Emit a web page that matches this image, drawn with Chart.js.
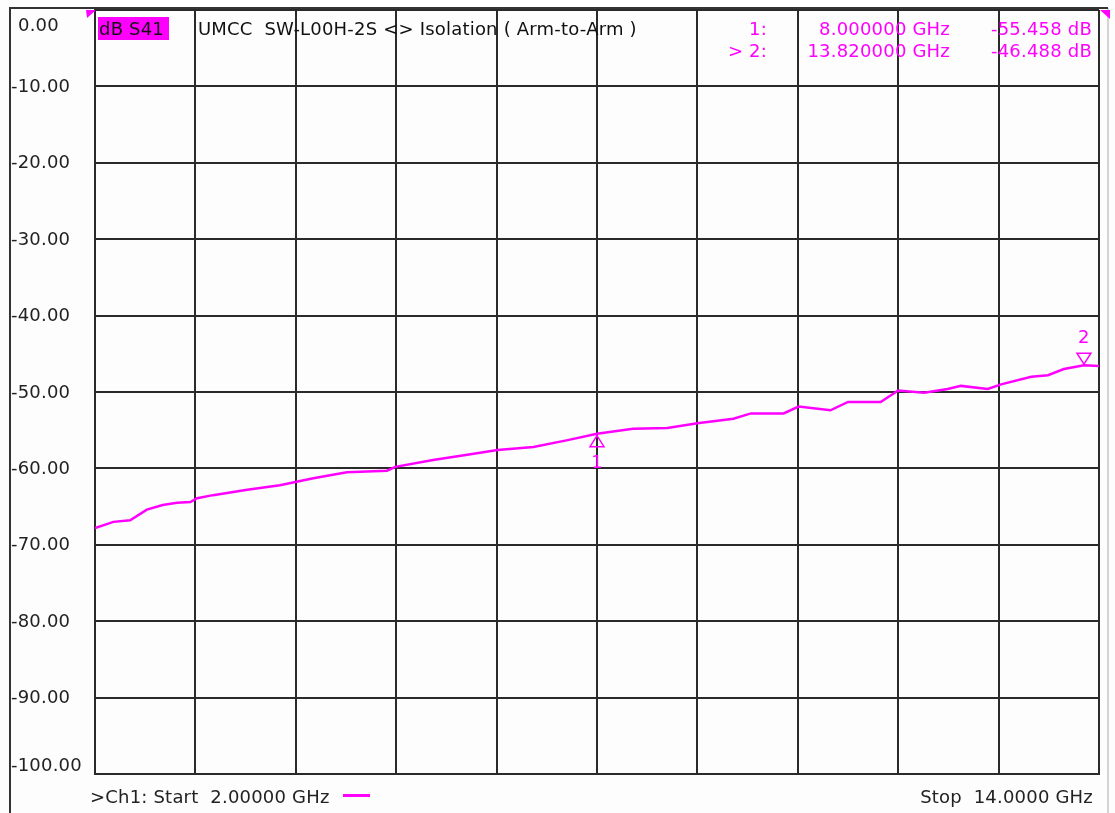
<!DOCTYPE html>
<html>
<head>
<meta charset="utf-8">
<title>S41 Isolation</title>
<script src="https://cdn.jsdelivr.net/npm/chart.js@4.4.1/dist/chart.umd.min.js"></script>
<style>
  html, body { margin: 0; padding: 0; background: #fff; }
  #wrap { position: relative; width: 1115px; height: 813px; }
</style>
</head>
<body>
<div id="wrap"><canvas id="plot" width="1115" height="813"></canvas></div>
<script>
/* trace data */
const freqGHz = [2.00, 2.22, 2.42, 2.62, 2.81, 2.98, 3.14, 3.22, 3.41, 3.82, 4.21, 4.61, 5.01, 5.49, 5.59,
  6.04, 6.45, 6.81, 7.24, 7.65, 8.00, 8.43, 8.84, 9.20, 9.63, 9.84, 10.23, 10.41, 10.79, 11.00, 11.39,
  11.60, 11.91, 12.19, 12.35, 12.67, 12.83, 13.19, 13.39, 13.58, 13.82, 14.00];
const s41dB = [-67.8, -67.0, -66.8, -65.4, -64.8, -64.5, -64.4, -63.9, -63.5, -62.8, -62.2, -61.3, -60.5, -60.3, -59.8,
  -58.9, -58.2, -57.6, -57.2, -56.3, -55.46, -54.8, -54.7, -54.1, -53.5, -52.8, -52.8, -51.9, -52.4, -51.3, -51.3,
  -49.8, -50.1, -49.6, -49.2, -49.6, -49.0, -48.0, -47.8, -47.0, -46.49, -46.6];

/* markers */
const markerNames = ["1", "2"];
const markerFreq = [8.0, 13.82];
const markerVal = [-55.458, -46.488];
const markerRows = ["1:", "> 2:"];
const markerFreqText = ["8.000000 GHz", "13.820000 GHz"];
const markerValText = ["-55.458 dB", "-46.488 dB"];

/* axes */
const yTickValues = [0, -10, -20, -30, -40, -50, -60, -70, -80, -90, -100];
const yTickLabels = ["0.00", "-10.00", "-20.00", "-30.00", "-40.00", "-50.00", "-60.00", "-70.00", "-80.00", "-90.00", "-100.00"];
const startGHz = 2, stopGHz = 14, xStep = 1.2;

const MAG = "#ff00ff";
const FONT = "18px 'DejaVu Sans'";

/* frame, labels, annotations */
const screenPlugin = {
  id: "screen",
  beforeDraw(chart) {
    const c = chart.ctx;
    c.save();
    c.fillStyle = "#fdfdfd";
    c.fillRect(0, 0, chart.width, chart.height);
    // outer frame
    c.strokeStyle = "#d4d4d4";
    c.lineWidth = 2;
    c.beginPath(); c.moveTo(1108, 8); c.lineTo(1108, 813); c.stroke();
    c.strokeStyle = "#333";
    c.beginPath(); c.moveTo(10, 813); c.lineTo(10, 8); c.lineTo(1108, 8); c.stroke();
    c.restore();
  },
  afterDraw(chart) {
    const c = chart.ctx;
    const xs = chart.scales.x, ys = chart.scales.y;
    const a = chart.chartArea;
    c.save();
    c.font = FONT;
    c.letterSpacing = "0.2px";
    c.textBaseline = "middle";

    // y labels
    c.fillStyle = "#222";
    c.textAlign = "left";
    yTickValues.forEach((v, i) => {
      let y = ys.getPixelForValue(v) + 1;
      if (i === 0) y = a.top + 16;
      if (i === yTickValues.length - 1) y = a.bottom - 8;
      const lab = yTickLabels[i];
      c.fillText(lab, lab[0] === "-" ? 11 : 18, y);
    });

    // header
    c.fillStyle = MAG;
    c.fillRect(98, 17, 71, 23);
    c.fillStyle = "#111";
    c.fillText("dB S41", 99, 30);
    c.fillText("UMCC  SW-L00H-2S <> Isolation ( Arm-to-Arm )", 198, 30);

    c.fillStyle = MAG;
    markerRows.forEach((r, i) => {
      const y = 30 + i * 22;
      c.textAlign = "right";
      c.fillText(r, 767, y);
      c.fillText(markerFreqText[i], 950, y);
      c.fillText(markerValText[i], 1092, y);
    });

    // reference-level wedges
    c.beginPath(); c.moveTo(86, 10); c.lineTo(95, 10); c.lineTo(95, 11); c.lineTo(87, 18); c.closePath(); c.fill();
    c.beginPath(); c.moveTo(1100, 10); c.lineTo(1110, 10); c.lineTo(1110, 19); c.closePath(); c.fill();

    // markers
    c.strokeStyle = MAG;
    c.lineWidth = 1.5;
    c.textAlign = "center";
    markerFreq.forEach((f, i) => {
      const px = xs.getPixelForValue(f), py = ys.getPixelForValue(markerVal[i]);
      c.beginPath();
      if (i === 0) {
        c.moveTo(px, py + 2); c.lineTo(px - 7, py + 13); c.lineTo(px + 7, py + 13); c.closePath();
        c.stroke();
        c.fillText(markerNames[i], px, py + 30);
      } else {
        c.moveTo(px, py - 1); c.lineTo(px - 7, py - 12); c.lineTo(px + 7, py - 12); c.closePath();
        c.stroke();
        c.fillText(markerNames[i], px, py - 27);
      }
    });

    // footer
    c.textAlign = "left";
    c.fillStyle = "#222";
    c.fillText(">Ch1: Start  2.00000 GHz", 90, 798);
    c.fillStyle = MAG;
    c.fillRect(343, 794, 27, 3);
    c.fillStyle = "#222";
    c.textAlign = "right";
    c.fillText("Stop  14.0000 GHz", 1093, 798);
    c.restore();
  }
};

const gridStyle = { color: "#2a2a2a", lineWidth: 2, drawTicks: false };

new Chart(document.getElementById("plot"), {
  type: "line",
  data: {
    datasets: [{
      label: "S41",
      data: freqGHz.map((f, i) => ({ x: f, y: s41dB[i] })),
      borderColor: MAG,
      borderWidth: 2.5,
      pointRadius: 0,
      tension: 0,
      fill: false
    }]
  },
  options: {
    responsive: false,
    animation: false,
    layout: { padding: { left: 95, right: 16, top: 10, bottom: 39 } },
    plugins: { legend: { display: false }, tooltip: { enabled: false } },
    scales: {
      x: {
        type: "linear",
        min: startGHz,
        max: stopGHz,
        ticks: { display: false, stepSize: xStep },
        grid: gridStyle,
        border: { display: true, color: "#2a2a2a", width: 2 },
        afterFit: s => { s.height = 0; }
      },
      y: {
        min: -100,
        max: 0,
        ticks: { display: false, stepSize: 10 },
        grid: gridStyle,
        border: { display: true, color: "#2a2a2a", width: 2 },
        afterFit: s => { s.width = 0; }
      }
    }
  },
  plugins: [screenPlugin]
});
</script>
</body>
</html>
